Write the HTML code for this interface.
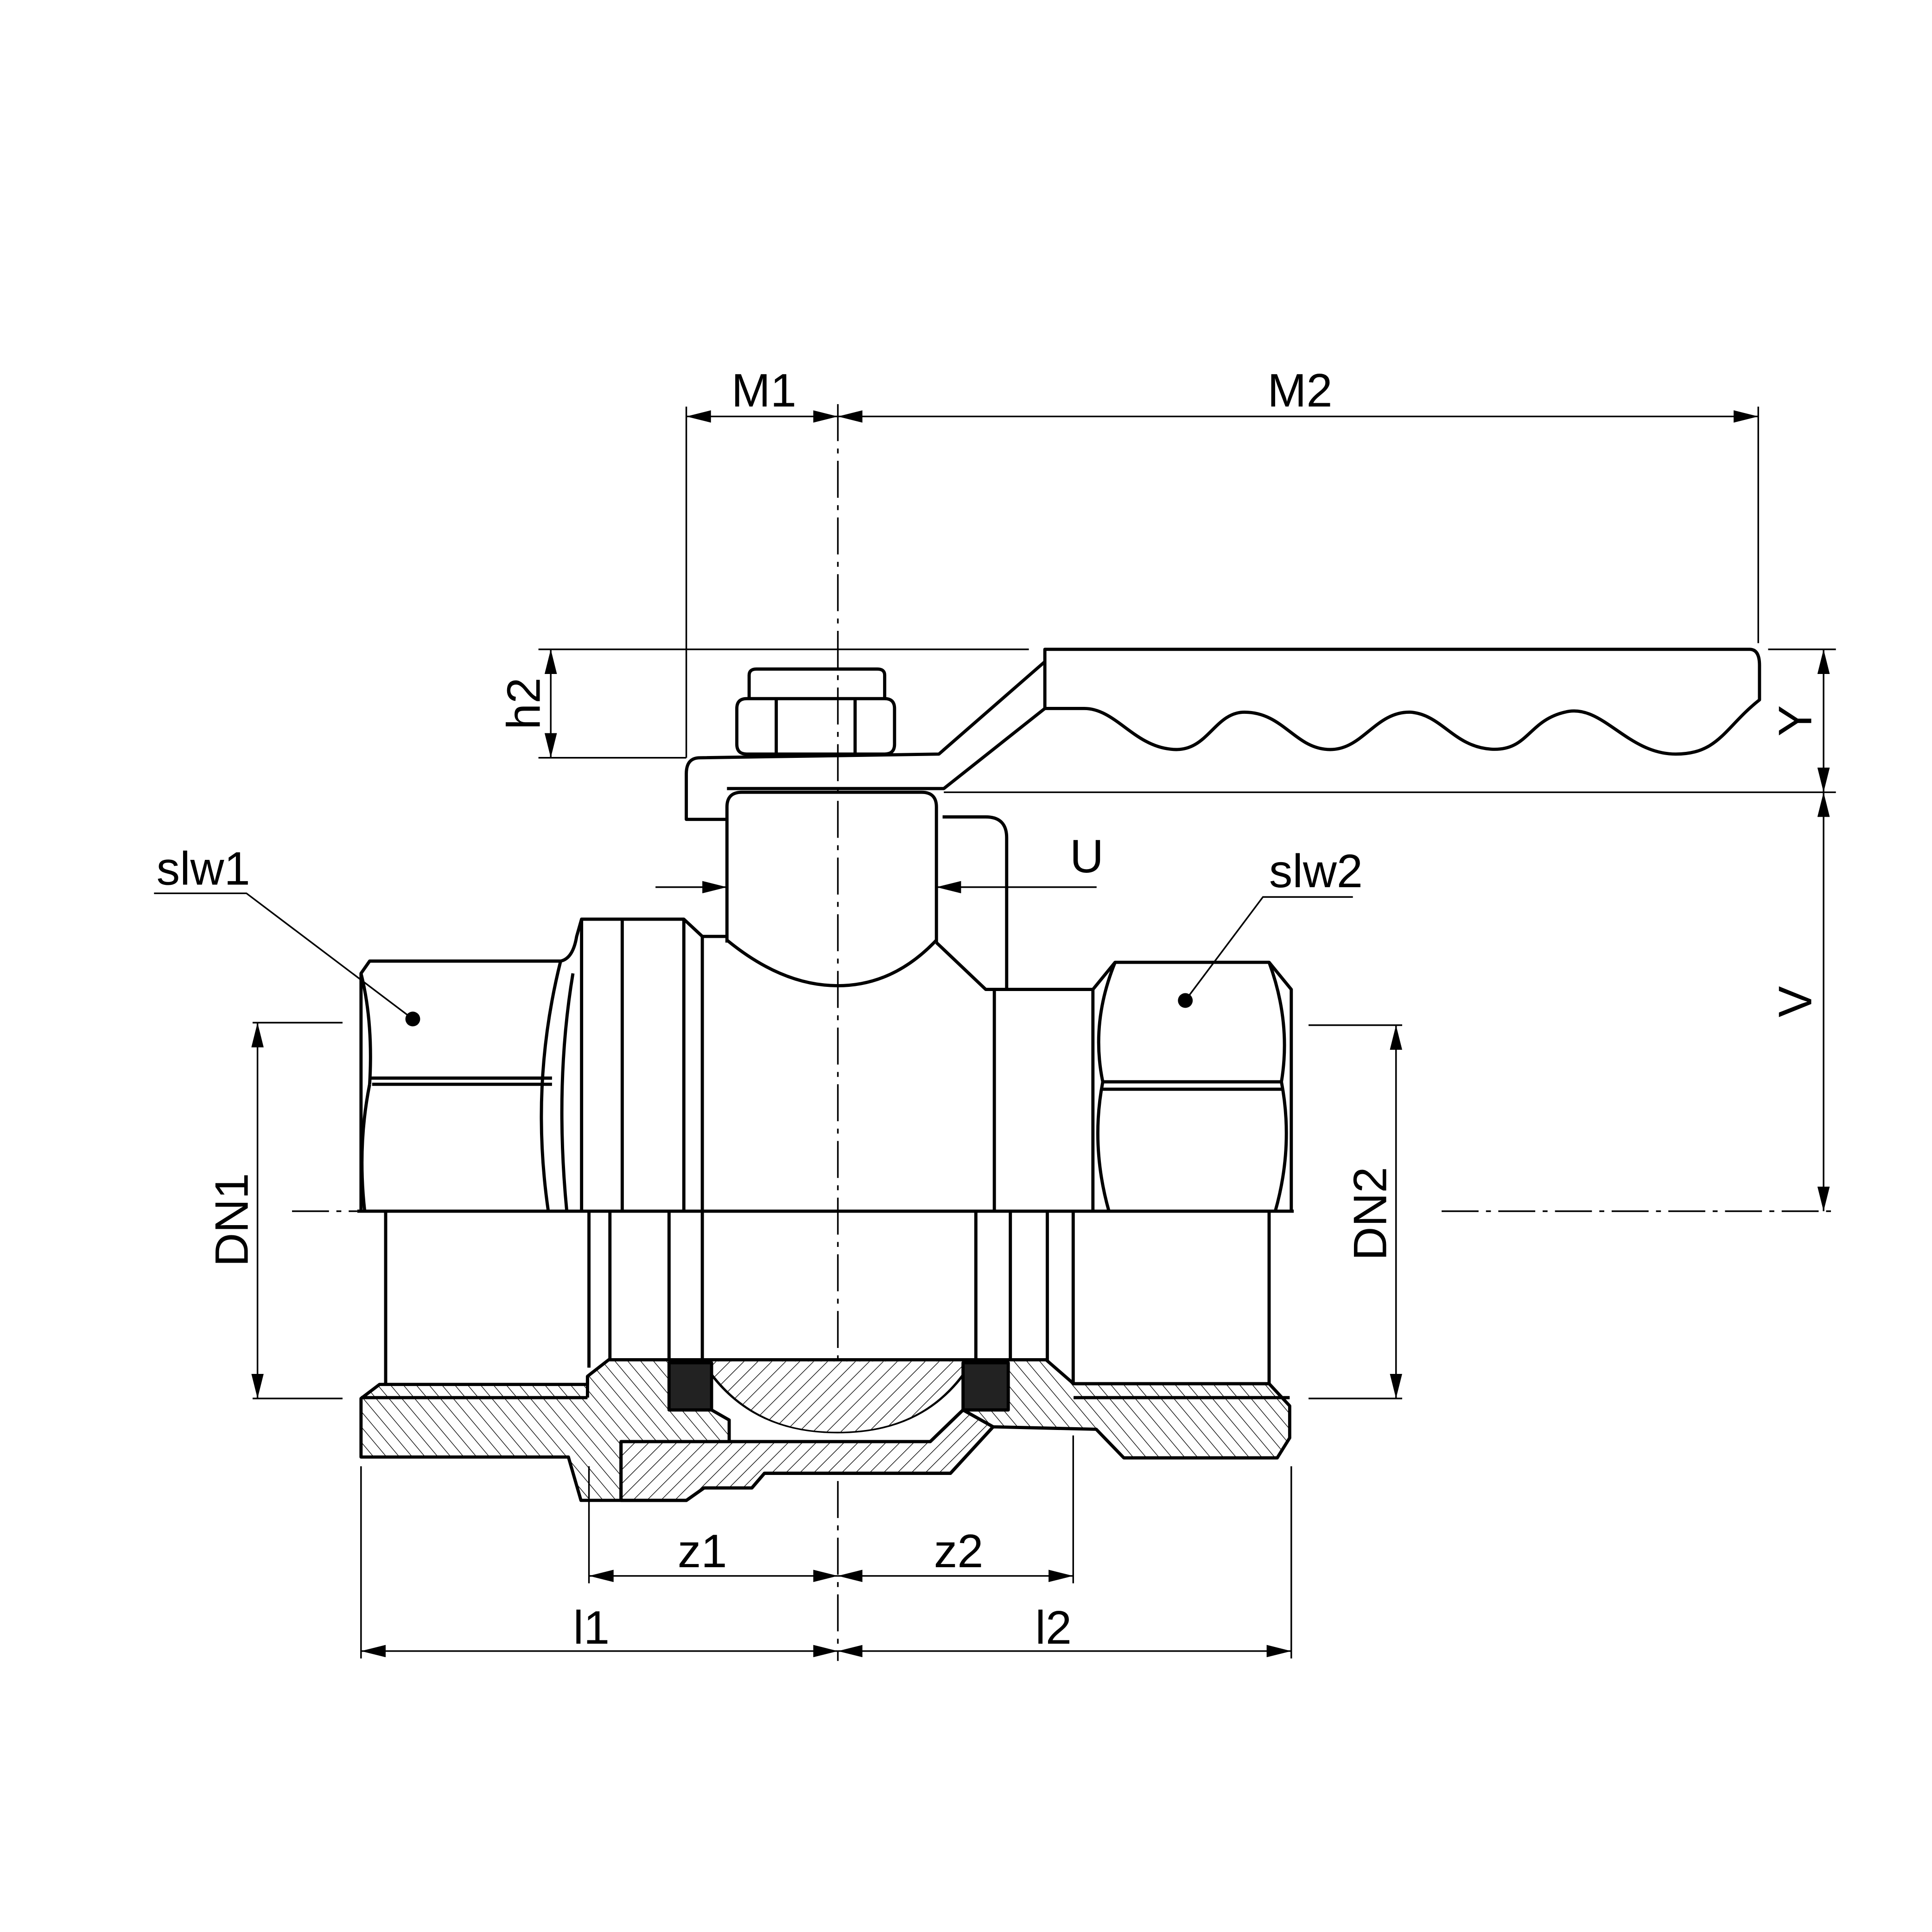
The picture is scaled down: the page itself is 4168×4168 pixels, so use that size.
<!DOCTYPE html>
<html><head><meta charset="utf-8"><style>html,body{margin:0;padding:0;background:#fff}svg{display:block}</style></head>
<body>
<svg width="4168" height="4168" viewBox="0 0 1568 1568" xmlns="http://www.w3.org/2000/svg">
<defs>
<pattern id="h" patternUnits="userSpaceOnUse" width="8" height="8" patternTransform="rotate(45)"><line x1="0" y1="0" x2="0" y2="8" stroke="#000" stroke-width="1"/></pattern>
<pattern id="h2" patternUnits="userSpaceOnUse" width="8" height="8" patternTransform="rotate(-40)"><line x1="0" y1="0" x2="0" y2="8" stroke="#000" stroke-width="1"/></pattern>
<marker id="a" markerWidth="20" markerHeight="10" refX="20" refY="5" orient="auto-start-reverse" markerUnits="userSpaceOnUse"><path d="M0,0 L20,5 L0,10z" fill="#000"/></marker>
</defs>
<rect width="1568" height="1568" fill="#fff"/>
<g fill="none" stroke="#000" stroke-width="1.3">
<line x1="680" y1="328" x2="680" y2="1348" stroke-dasharray="30,6,4,6"/>
<line x1="237" y1="983" x2="290" y2="983" stroke-dasharray="30,6,4,6"/>
<line x1="1170" y1="983" x2="1490" y2="983" stroke-dasharray="30,6,4,6"/>
<line x1="557" y1="330" x2="557" y2="615"/>
<line x1="1427" y1="330" x2="1427" y2="522"/>
<line x1="557" y1="338" x2="680" y2="338" marker-start="url(#a)" marker-end="url(#a)"/>
<line x1="680" y1="338" x2="1427" y2="338" marker-start="url(#a)" marker-end="url(#a)"/>
<line x1="437" y1="527" x2="835" y2="527"/>
<line x1="437" y1="615" x2="557" y2="615"/>
<line x1="447" y1="527" x2="447" y2="615" marker-start="url(#a)" marker-end="url(#a)"/>
<line x1="1435" y1="527" x2="1490" y2="527"/>
<line x1="766" y1="643" x2="1490" y2="643"/>
<line x1="1480" y1="527" x2="1480" y2="643" marker-start="url(#a)" marker-end="url(#a)"/>
<line x1="1480" y1="643" x2="1480" y2="983" marker-start="url(#a)" marker-end="url(#a)"/>
<line x1="205" y1="830" x2="278" y2="830"/><line x1="205" y1="1135" x2="278" y2="1135"/>
<line x1="209" y1="830" x2="209" y2="1135" marker-start="url(#a)" marker-end="url(#a)"/>
<line x1="1062" y1="832" x2="1138" y2="832"/><line x1="1062" y1="1135" x2="1138" y2="1135"/>
<line x1="1133" y1="832" x2="1133" y2="1135" marker-start="url(#a)" marker-end="url(#a)"/>
<line x1="478" y1="1190" x2="478" y2="1285"/><line x1="871" y1="1165" x2="871" y2="1285"/>
<line x1="478" y1="1279" x2="680" y2="1279" marker-start="url(#a)" marker-end="url(#a)"/>
<line x1="680" y1="1279" x2="871" y2="1279" marker-start="url(#a)" marker-end="url(#a)"/>
<line x1="293" y1="1190" x2="293" y2="1346"/><line x1="1048" y1="1190" x2="1048" y2="1346"/>
<line x1="293" y1="1340" x2="680" y2="1340" marker-start="url(#a)" marker-end="url(#a)"/>
<line x1="680" y1="1340" x2="1048" y2="1340" marker-start="url(#a)" marker-end="url(#a)"/>
<line x1="532" y1="720" x2="590" y2="720" marker-end="url(#a)"/>
<line x1="890" y1="720" x2="760" y2="720" marker-end="url(#a)"/>
<polyline points="125,725 200,725 335,827"/>
<polyline points="1098,728 1025,728 962,812"/>
</g>
<circle cx="335" cy="827" r="6"/><circle cx="962" cy="812" r="6"/>
<g fill="none" stroke="#000" stroke-width="2.6" stroke-linejoin="round">
<path d="M848,527 L1420,527 Q1428,527 1428,540 L1428,568 C1400,590 1395,612 1360,612 C1320,612 1300,570 1270,578 C1240,585 1240,610 1210,608 C1180,606 1170,580 1145,578 C1115,577 1105,612 1075,608 C1050,605 1040,578 1010,578 C985,578 980,612 950,608 C920,605 905,575 880,575 L848,575 Z"/>
<path d="M848,537 L762,612 L568,615 Q557,615 557,628 L557,665 L590,665"/>
<path d="M590,640 L766,640 L848,575"/>
<path d="M608,567 L608,548 Q608,543 614,543 L712,543 Q718,543 718,548 L718,567"/>
<path d="M598,575 Q598,567 606,567 L718,567 Q726,567 726,575 L726,604 Q726,612 718,612 L606,612 Q598,612 598,604 Z"/>
<line x1="630" y1="567" x2="630" y2="612"/><line x1="694" y1="567" x2="694" y2="612"/>
<path d="M590,765 L590,655 Q590,643 602,643 L748,643 Q760,643 760,655 L760,765"/>
<path d="M590,763 Q635,800 680,800 Q725,800 760,763"/>
<path d="M765,663 L800,663 Q817,663 817,680 L817,803"/>
<path d="M760,765 L800,803 L887,803"/>
<path d="M293,983 L293,790 L300,780 L455,780 Q465,778 468,760 L472,746 L555,746 L570,760 L590,760"/>
<line x1="505" y1="746" x2="505" y2="983"/><line x1="555" y1="746" x2="555" y2="983"/><line x1="570" y1="760" x2="570" y2="983"/>
<line x1="472" y1="746" x2="472" y2="983"/>
<path d="M455,780 Q430,880 445,983"/><path d="M465,790 Q450,880 460,983"/>
<path d="M293,790 Q303,830 300,880"/><path d="M300,880 Q290,930 296,983"/>
<line x1="302" y1="880" x2="448" y2="880"/><line x1="300" y1="875" x2="448" y2="875"/>
<line x1="807" y1="803" x2="807" y2="983"/>
<path d="M887,983 L887,803 L905,781 L1030,781 L1048,803 L1048,983"/>
<path d="M905,781 Q885,830 895,878 Q885,930 900,983"/>
<path d="M1030,781 Q1048,830 1040,878 Q1050,930 1035,983"/>
<line x1="895" y1="878" x2="1040" y2="878"/><line x1="895" y1="884" x2="1040" y2="884"/>
<line x1="290" y1="983" x2="1050" y2="983"/>
<line x1="313" y1="983" x2="313" y2="1123"/><line x1="1030" y1="983" x2="1030" y2="1123"/>
<line x1="478" y1="983" x2="478" y2="1110"/><line x1="495" y1="983" x2="495" y2="1104"/>
<line x1="543" y1="983" x2="543" y2="1104"/><line x1="570" y1="983" x2="570" y2="1104"/>
<line x1="792" y1="983" x2="792" y2="1104"/><line x1="820" y1="983" x2="820" y2="1104"/>
<line x1="850" y1="983" x2="850" y2="1104"/><line x1="871" y1="983" x2="871" y2="1123"/>
</g>
<g stroke="#000" stroke-width="2.6" stroke-linejoin="round">
<path fill="url(#h2)" d="M293,1135 L308,1123.6 L476.8,1123.6 L476.8,1117 L494,1103.6 L849,1103.6 L871.3,1123 L1030,1123 L1046.7,1141 L1046.7,1167 L1036.6,1183.2 L912.1,1183.2 L889.7,1160 L806,1158 L771.4,1195.7 L620.4,1195.7 L610.2,1207.6 L571.4,1207.6 L557.1,1217.7 L471.5,1217.7 L461.3,1182.5 L293,1182.5 Z"/>
<path fill="#fff" d="M571.4,1106.7 C600,1150 640,1162 679.5,1162 C720,1162 760,1150 787.7,1106.7 L781.6,1144.3 L755,1170 L591.8,1170 L591.8,1152.5 L577.5,1144.3 Z"/>
<path fill="#fff" stroke="none" d="M571.4,1105 L787.7,1105 C760,1150 720,1162 679.5,1162 C640,1162 600,1150 571.4,1105 Z"/>
<path fill="url(#h)" stroke="none" d="M571.4,1105 L787.7,1105 C760,1150 720,1162 679.5,1162 C640,1162 600,1150 571.4,1105 Z"/>
<path fill="#fff" d="M504,1170 L755,1170 L781.6,1144.3 L806,1158 L771.4,1195.7 L620.4,1195.7 L610.2,1207.6 L571.4,1207.6 L557.1,1217.7 L504,1217.7 Z"/>
<path fill="url(#h)" d="M504,1170 L755,1170 L781.6,1144.3 L806,1158 L771.4,1195.7 L620.4,1195.7 L610.2,1207.6 L571.4,1207.6 L557.1,1217.7 L504,1217.7 Z"/>
<path fill="#222" d="M543,1106 L577.5,1106 L577.5,1144.3 L543,1144.3 Z"/>
<path fill="#222" d="M781.6,1106 L818.3,1106 L818.3,1144.3 L781.6,1144.3 Z"/>
<line x1="494" y1="1103.6" x2="849" y2="1103.6"/>
</g>
<g fill="none" stroke="#000" stroke-width="2.6">
<line x1="293" y1="1134.3" x2="476.8" y2="1134.3"/>
<line x1="871.3" y1="1134.3" x2="1046.7" y2="1134.3"/>
<line x1="476.8" y1="1117" x2="476.8" y2="1134.3"/>
</g>
<g font-family="Liberation Sans, sans-serif" font-size="38" fill="#000" text-anchor="middle">
<text x="620" y="330">M1</text><text x="1055" y="330">M2</text>
<text x="165" y="718">slw1</text><text x="1068" y="720">slw2</text>
<text x="882" y="708">U</text>
<text x="570" y="1272">z1</text><text x="778" y="1272">z2</text>
<text x="480" y="1334">l1</text><text x="855" y="1334">l2</text>
<text transform="translate(438,571) rotate(-90)">h2</text>
<text transform="translate(1470,585) rotate(-90)">Y</text>
<text transform="translate(1470,813) rotate(-90)">V</text>
<text transform="translate(201,990) rotate(-90)">DN1</text>
<text transform="translate(1125,985) rotate(-90)">DN2</text>
</g>
</svg>
</body></html>
